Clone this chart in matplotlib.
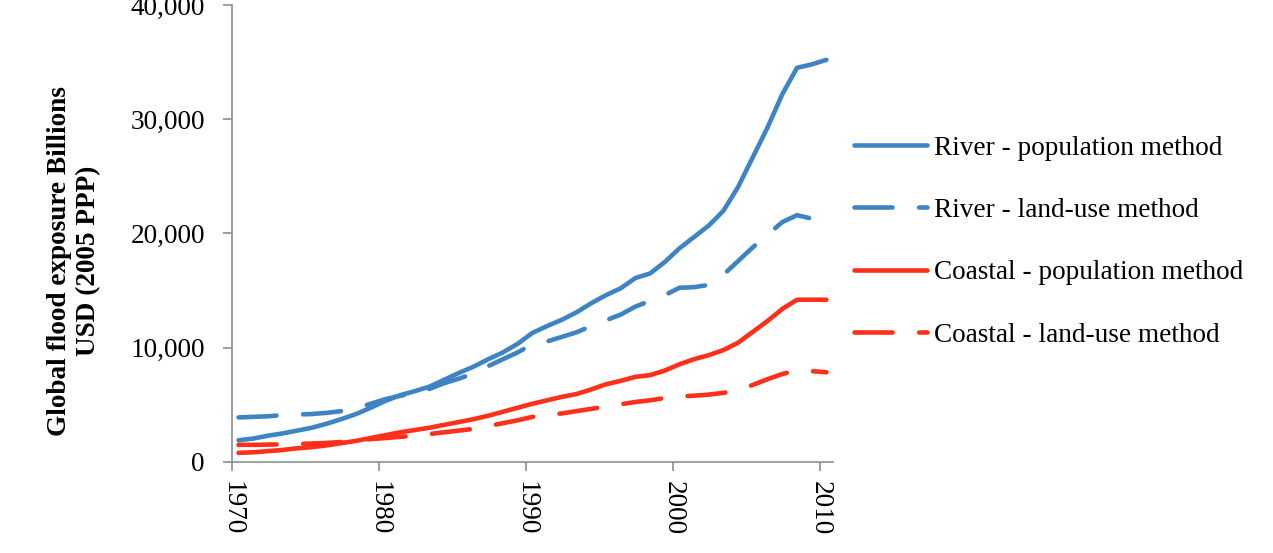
"""Global flood exposure 1970-2010: river and coastal, population vs land-use method."""

import matplotlib

matplotlib.use("Agg")  # headless

import matplotlib.pyplot as plt  # noqa: E402
import numpy as np  # noqa: E402
from matplotlib.lines import Line2D  # noqa: E402
from matplotlib.ticker import FuncFormatter  # noqa: E402

years = list(range(1970, 2011))

# billions USD (2005 PPP)
river_population = [
    1900, 2050, 2300, 2500, 2750, 3000, 3350, 3750, 4200, 4750,
    5350, 5850, 6200, 6600, 7200, 7800, 8350, 9000, 9600, 10350,
    11300, 11900, 12450, 13100, 13900, 14600, 15200, 16100, 16500, 17500,
    18700, 19700, 20700, 22000, 24100, 26700, 29300, 32200, 34500, 34800,
    35200,
]
river_landuse = [
    3900, 3950, 4000, 4100, 4150, 4200, 4300, 4450, 4700, 5100,
    5500, 5800, 5950, 6400, 6900, 7300, 7750, 8400, 9000, 9600,
    10300, 10550, 10950, 11350, 11900, 12400, 12900, 13600, 14100, 14600,
    15250, 15300, 15500, 16400, 17600, 18800, 19900, 21000, 21600, 21300,
    21000,
]
coastal_population = [
    800, 850, 950, 1050, 1200, 1300, 1450, 1650, 1850, 2100,
    2350, 2600, 2800, 3000, 3250, 3500, 3750, 4050, 4400, 4750,
    5100, 5400, 5700, 5950, 6350, 6800, 7100, 7450, 7600, 8000,
    8550, 9000, 9350, 9800, 10450, 11400, 12350, 13400, 14200, 14200,
    14200,
]
coastal_landuse = [
    1500, 1500, 1520, 1550, 1570, 1620, 1670, 1750, 1880, 2000,
    2100, 2200, 2300, 2450, 2600, 2750, 2900, 3150, 3400, 3650,
    3950, 4100, 4250, 4450, 4650, 4850, 5050, 5250, 5400, 5600,
    5750, 5800, 5900, 6050, 6300, 6750, 7250, 7700, 8050, 7950,
    7850,
]
series_labels = [
    "River - population method",
    "River - land-use method",
    "Coastal - population method",
    "Coastal - land-use method",
]
tick_years = [1970, 1980, 1990, 2000, 2010]
y_ticks = [0, 10000, 20000, 30000, 40000]

BLUE = "#3E84C5"
RED = "#FF3019"
AXIS_GREY = "#8A8F8E"
LW = 3.3
DASH = (8.3, 5.8)
FS = 19.6

plt.rcParams["font.family"] = ["Liberation Serif", "DejaVu Serif"]
plt.rcParams["font.size"] = FS

fig = plt.figure(figsize=(12.73, 5.53), dpi=100)
ax = fig.add_axes([0.1822, 0.1646, 0.4722, 0.8264])

x = np.array(years) + 0.45
styles = [
    (river_population, BLUE, None),
    (river_landuse, BLUE, DASH),
    (coastal_population, RED, None),
    (coastal_landuse, RED, DASH),
]
handles = []
for (vals, col, dash), lab in zip(styles, series_labels):
    kw = dict(color=col, lw=LW, solid_capstyle="round", dash_capstyle="round",
              solid_joinstyle="round", dash_joinstyle="round")
    if dash is not None:
        kw["dashes"] = dash
    ax.plot(x, vals, **kw)
    handles.append(Line2D([0], [0], label=lab, **kw))

ax.set_xlim(1970, 2010.9)
ax.set_ylim(0, 40000)
ax.set_xticks(tick_years)
ax.set_xticklabels([str(t) for t in tick_years], rotation=270)
ax.set_yticks(y_ticks)
ax.yaxis.set_major_formatter(FuncFormatter(lambda v, p: f"{int(v):,}"))

for side in ["top", "right"]:
    ax.spines[side].set_visible(False)
for side in ["left", "bottom"]:
    ax.spines[side].set_color(AXIS_GREY)
    ax.spines[side].set_linewidth(1.2)
ax.tick_params(axis="both", direction="out", length=6.5, width=1.2,
               color=AXIS_GREY, labelsize=FS)
ax.tick_params(axis="y", pad=13)
ax.tick_params(axis="x", pad=7)

fig.text(0.0585, 0.528, "Global flood exposure Billions\nUSD (2005 PPP)",
         rotation=90, ha="center", va="center", multialignment="center",
         fontsize=FS, fontweight="bold", linespacing=1.22)

fig.legend(handles=handles, loc="center left", bbox_to_anchor=(0.671, 0.563),
           frameon=False, fontsize=FS, handlelength=2.67, handletextpad=0.26,
           labelspacing=1.37, borderpad=0, borderaxespad=0)

fig.savefig("out.png", dpi=100)
